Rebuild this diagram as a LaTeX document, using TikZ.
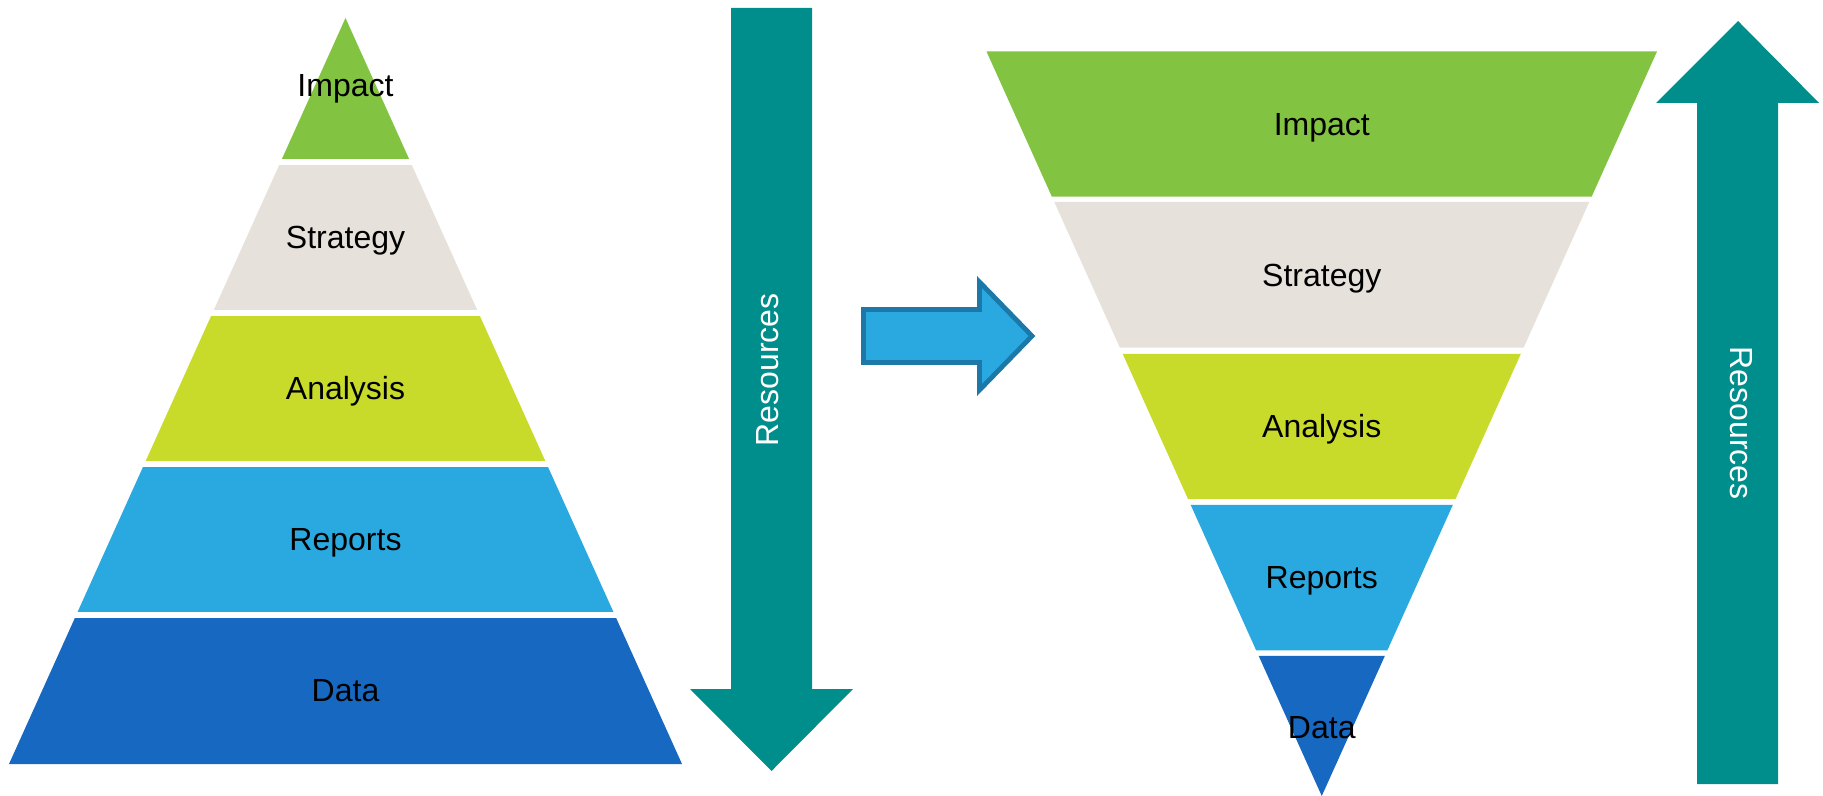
\documentclass[tikz,border=0pt]{standalone}
\usepackage{fontspec}
\setmainfont{Liberation Sans}
\usetikzlibrary{calc}

\definecolor{impactgreen}{RGB}{130,195,65}
\definecolor{strategybeige}{RGB}{230,226,219}
\definecolor{analysislime}{RGB}{200,219,42}
\definecolor{reportsblue}{RGB}{41,169,224}
\definecolor{datablue}{RGB}{23,104,192}
\definecolor{resteal}{RGB}{0,142,140}
\definecolor{shiftedge}{RGB}{27,120,168}

\tikzset{
  label/.style={font=\fontsize{16pt}{19pt}\selectfont, text=black,
    inner sep=0pt, text height=0.716em, text depth=0pt},
  reslabel/.style={font=\fontsize{16pt}{19pt}\selectfont, text=white,
    inner sep=0pt, text height=0.716em, text depth=0pt},
  resarrow/.style={fill=resteal},
  shiftarrow/.style={fill=reportsblue, draw=shiftedge, line width=2.4pt, line join=miter}
}

\begin{document}
\begin{tikzpicture}[x=0.5pt,y=-0.5pt]
\useasboundingbox (0,0) rectangle (1823,796);

% ---------- left pyramid ----------
\coordinate (pa) at (345.5,18);
\coordinate (pl) at (9,764);
\coordinate (pr) at (682,764);
\newcommand{\pband}[3]{%
  \fill[#3] ($(pa)!#1!(pl)$) -- ($(pa)!#1!(pr)$) -- ($(pa)!#2!(pr)$) -- ($(pa)!#2!(pl)$) -- cycle;}
\fill[impactgreen] (pa) -- ($(pa)!0.1890!(pr)$) -- ($(pa)!0.1890!(pl)$) -- cycle;
\pband{0.1971}{0.3914}{strategybeige}
\pband{0.3995}{0.5938}{analysislime}
\pband{0.6019}{0.7962}{reportsblue}
\pband{0.8043}{1}{datablue}

\node[label] (lImpact)   at (345.5,89.5)  {Impact};
\node[label] (lStrategy) at (345.5,241.5) {Strategy};
\node[label] (lAnalysis) at (345.5,392.5) {Analysis};
\node[label] (lReports)  at (345.5,543.5) {Reports};
\node[label] (lData)     at (345.5,694.5) {Data};

% ---------- downward resources arrow ----------
\fill[resarrow] (731,8) -- (812,8) -- (812,689) -- (853,689) -- (771.5,771)
  -- (690,689) -- (731,689) -- cycle;
\node[reslabel, rotate=90] (resDown) at (771.5,370) {Resources};

% ---------- shift arrow ----------
\draw[shiftarrow] (863.5,309.5) -- (979.5,309.5) -- (979.5,282) -- (1032,336)
  -- (979.5,390) -- (979.5,362.5) -- (863.5,362.5) -- cycle;

% ---------- right inverted pyramid ----------
\coordinate (fa) at (1321.75,796);
\coordinate (fl) at (986.5,51.5);
\coordinate (fr) at (1657,51.5);
\newcommand{\fband}[3]{%
  \fill[#3] ($(fa)!#1!(fl)$) -- ($(fa)!#1!(fr)$) -- ($(fa)!#2!(fr)$) -- ($(fa)!#2!(fl)$) -- cycle;}
\fband{1}{0.8050}{impactgreen}
\fband{0.7979}{0.6022}{strategybeige}
\fband{0.5937}{0.3989}{analysislime}
\fband{0.3909}{0.1957}{reportsblue}
\fill[datablue] (fa) -- ($(fa)!0.1881!(fl)$) -- ($(fa)!0.1881!(fr)$) -- cycle;

\node[label] (rImpact)   at (1321.75,128.5) {Impact};
\node[label] (rStrategy) at (1321.75,279.5) {Strategy};
\node[label] (rAnalysis) at (1321.75,430.5) {Analysis};
\node[label] (rReports)  at (1321.75,581.5) {Reports};
\node[label] (rData)     at (1321.75,731.5) {Data};

% ---------- upward resources arrow ----------
\fill[resarrow] (1697,784) -- (1778,784) -- (1778,103) -- (1819,103) -- (1738,21)
  -- (1656,103) -- (1697,103) -- cycle;
\node[reslabel, rotate=-90] (resUp) at (1737.5,423) {Resources};

\end{tikzpicture}
\end{document}
